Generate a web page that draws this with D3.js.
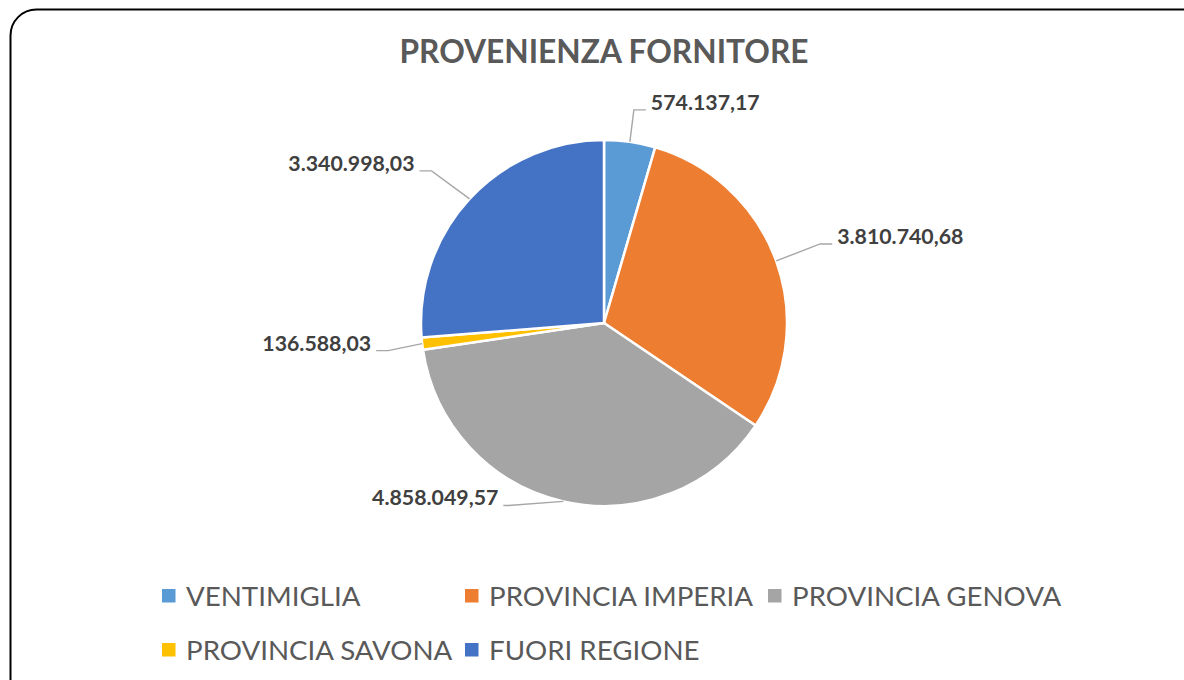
<!DOCTYPE html>
<html>
<head>
<meta charset="utf-8">
<script src="https://cdn.jsdelivr.net/npm/d3@7"></script>
<style>
  body { margin: 0; background: #fff; }
  svg { display: block; }
</style>
</head>
<body>
<div id="chart"></div>
<script>
// data
var categories = ["VENTIMIGLIA", "PROVINCIA IMPERIA", "PROVINCIA GENOVA", "PROVINCIA SAVONA", "FUORI REGIONE"];
var values = [574137.17, 3810740.68, 4858049.57, 136588.03, 3340998.03];
var valueLabels = ["574.137,17", "3.810.740,68", "4.858.049,57", "136.588,03", "3.340.998,03"];
var colors = ["#5B9BD5", "#ED7D31", "#A5A5A5", "#FFC000", "#4472C4"];

// leader elbow nudges (layout, relative to slice edge point)
var elbowNudge = [[4, -32], [44, -17], [-55, 4], [-34, 7], [-38, -28]];

var width = 1184, height = 680;
var cx = 604, cy = 323, radius = 183;

var svg = d3.select("#chart").append("svg")
    .attr("width", width)
    .attr("height", height);

// chart frame
svg.append("rect")
    .attr("x", 10.5)
    .attr("y", 9.5)
    .attr("width", 1200)
    .attr("height", 720)
    .attr("rx", 26)
    .attr("fill", "#fff")
    .attr("stroke", "#000")
    .attr("stroke-width", 2);

svg.append("text")
    .attr("x", cx)
    .attr("y", 63)
    .attr("text-anchor", "middle")
    .attr("font-family", "Lato, sans-serif")
    .attr("font-weight", "bold")
    .attr("font-size", 31.7)
    .attr("fill", "#595959")
    .text("PROVENIENZA FORNITORE");

var pie = d3.pie().sort(null).value(function(d){ return d; });
var arcs = pie(values);

var arc = d3.arc().innerRadius(0).outerRadius(radius);

var g = svg.append("g")
    .attr("transform", "translate(" + cx + "," + cy + ")");

g.selectAll(".slice")
    .data(arcs)
    .enter().append("path")
    .attr("class", "slice")
    .attr("d", arc)
    .attr("fill", function(d, i){ return colors[i]; })
    .attr("stroke", "#fff")
    .attr("stroke-width", 2.5)
    .attr("stroke-linejoin", "round");

// labels + leader lines
arcs.forEach(function(d, i){
    var mid = (d.startAngle + d.endAngle) / 2;
    var px = Math.sin(mid) * radius, py = -Math.cos(mid) * radius;
    var ex = px + elbowNudge[i][0], ey = py + elbowNudge[i][1];
    var right = Math.sin(mid) > 0;
    var hx = right ? ex + 12 : ex - 12;
    if (i === 2) hx = ex - 5;

    g.append("polyline")
        .attr("points", [[px, py], [ex, ey], [hx, ey]].map(function(p){ return p.join(","); }).join(" "))
        .attr("fill", "none")
        .attr("stroke", "#A6A6A6")
        .attr("stroke-width", 1.4);

    g.append("text")
        .attr("x", right ? hx + 5 : hx - 5)
        .attr("y", ey)
        .attr("text-anchor", right ? "start" : "end")
        .attr("font-family", "Lato, sans-serif")
        .attr("font-weight", "bold")
        .attr("font-size", 21.3)
        .attr("fill", "#404040")
        .text(valueLabels[i]);
});

// legend
var legend = svg.selectAll(".legend")
    .data(categories)
    .enter().append("g")
    .attr("class", "legend")
    .attr("transform", function(d, i){
        return "translate(" + (162 + (i % 3) * 303) + "," + (596 + Math.floor(i / 3) * 54) + ")";
    });

legend.append("rect")
    .attr("x", 0)
    .attr("y", -7)
    .attr("width", 13.5)
    .attr("height", 13.5)
    .attr("fill", function(d, i){ return colors[i]; });

legend.append("text")
    .attr("x", 24)
    .attr("y", 0)
    .attr("dy", "0.35em")
    .attr("font-family", "Lato, sans-serif")
    .attr("font-size", 27.7)
    .attr("fill", "#595959")
    .text(function(d){ return d; });
</script>
</body>
</html>
